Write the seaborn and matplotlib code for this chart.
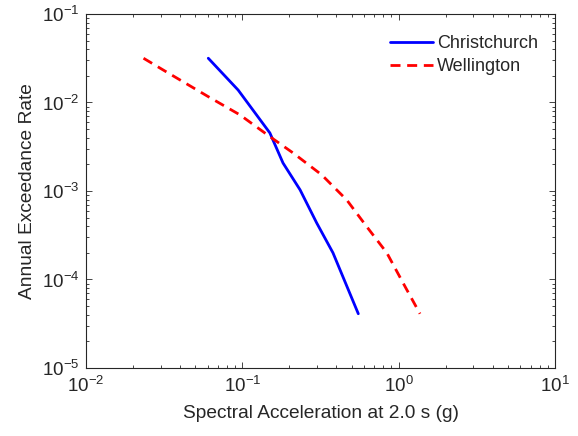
import numpy as np
import pandas as pd
import seaborn as sns
import matplotlib.pyplot as plt
from matplotlib.ticker import LogLocator, NullFormatter

# hazard curves
chc_sa = [0.0605, 0.094, 0.150, 0.182, 0.234, 0.299, 0.380, 0.552]
chc_rate = [0.0316, 0.0138, 0.00452, 0.00207, 0.00103, 4.35e-4, 2.0e-4, 4.1e-5]

wlg_sa = [0.0233, 0.0311, 0.0604, 0.0966, 0.150, 0.211, 0.322, 0.466, 0.625, 0.840, 1.10, 1.37]
wlg_rate = [0.0316, 0.0233, 0.01165, 0.00723, 0.00411, 0.00269, 0.00152, 7.9e-4,
            3.95e-4, 2.0e-4, 8.3e-5, 4.1e-5]

sns.set_style("ticks")
plt.rcParams['font.family'] = ['Liberation Sans', 'DejaVu Sans']
plt.rcParams['mathtext.fontset'] = 'custom'
plt.rcParams['mathtext.rm'] = 'Liberation Sans'
plt.rcParams['mathtext.it'] = 'Liberation Sans'

grey = '#262626'
df = pd.concat([
    pd.DataFrame({'sa': chc_sa, 'rate': chc_rate, 'site': 'Christchurch'}),
    pd.DataFrame({'sa': wlg_sa, 'rate': wlg_rate, 'site': 'Wellington'}),
])

fig = plt.figure(figsize=(5.78, 4.36), dpi=100)
ax = fig.add_axes([0.149, 0.156, 0.811, 0.812])

sns.lineplot(data=df[df.site == 'Christchurch'], x='sa', y='rate', ax=ax,
             color='#0000ff', lw=2, sort=False, estimator=None, label='Christchurch')
sns.lineplot(data=df[df.site == 'Wellington'], x='sa', y='rate', ax=ax,
             color='#ff0000', lw=2, sort=False, estimator=None, label='Wellington',
             dashes=False)
ax.lines[1].set_dashes((3.6, 2.4))

ax.set_xscale('log')
ax.set_yscale('log')
ax.set_xlim(1e-2, 1e1)
ax.set_ylim(1e-5, 1e-1)

ax.xaxis.set_major_locator(LogLocator(base=10, numticks=10))
ax.yaxis.set_major_locator(LogLocator(base=10, numticks=10))
ax.xaxis.set_minor_locator(LogLocator(base=10, subs=np.arange(2, 10), numticks=10))
ax.yaxis.set_minor_locator(LogLocator(base=10, subs=np.arange(2, 10), numticks=10))
ax.xaxis.set_minor_formatter(NullFormatter())
ax.yaxis.set_minor_formatter(NullFormatter())

ax.tick_params(which='both', direction='in', top=True, right=True, colors=grey,
               labelsize=13.5, width=0.6)
ax.tick_params(which='major', length=4.5)
ax.tick_params(which='minor', length=2.5)
ax.tick_params(axis='x', which='major', pad=6)
ax.tick_params(axis='y', which='major', pad=5)
for s in ax.spines.values():
    s.set_color(grey)
    s.set_linewidth(0.8)

ax.set_xlabel('Spectral Acceleration at 2.0 s (g)', fontsize=13.8, color=grey, labelpad=6)
ax.set_ylabel('Annual Exceedance Rate', fontsize=13.8, color=grey, labelpad=4)

leg = ax.legend(loc='upper right', bbox_to_anchor=(1.008, 0.998), frameon=False,
                fontsize=13, handlelength=2.4, handletextpad=0.2,
                borderaxespad=0.75, labelspacing=0.3)
leg.get_lines()[1].set_dashes((3.6, 2.4))

fig.savefig('out.png', dpi=100)
